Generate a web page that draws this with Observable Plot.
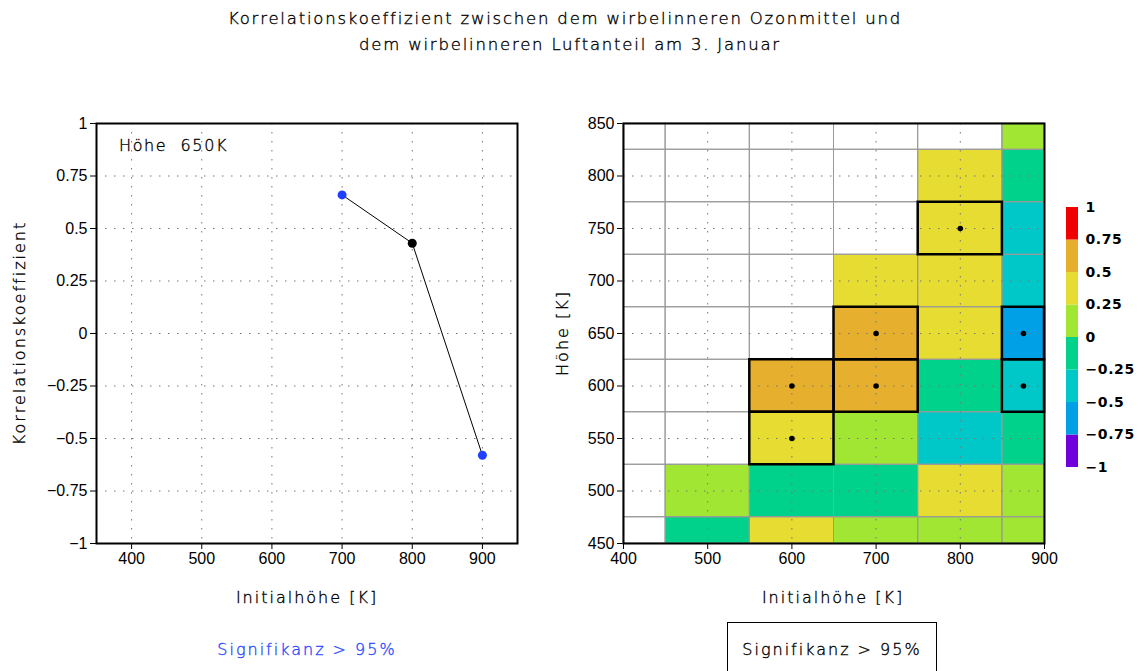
<!DOCTYPE html>
<html>
<head>
<meta charset="utf-8">
<script src="https://cdn.jsdelivr.net/npm/d3@7"></script>
<script src="https://cdn.jsdelivr.net/npm/@observablehq/plot@0.6"></script>
<style>
  html, body { margin: 0; padding: 0; background: white; }
  #chart { position: relative; width: 1140px; height: 671px; overflow: hidden; background: white; }
  .lbl { position: absolute; white-space: pre; font-family: "DejaVu Sans", sans-serif; font-weight: 300; font-size: 16px; letter-spacing: 2px; color: #000; -webkit-text-stroke: 0.35px currentColor; }
  #chart svg { position: absolute; }
</style>
</head>
<body>
<div id="chart"></div>
<script>
// ---------- data ----------
const titleLines = [
  "Korrelationskoeffizient zwischen dem wirbelinneren Ozonmittel und",
  "dem wirbelinneren Luftanteil am 3. Januar"
];
const initialHeights = [400, 500, 600, 700, 800, 900];
const heights = [450, 500, 550, 600, 650, 700, 750, 800, 850];
// correlation per height row (columns = initialHeights), null = no data
const r450 = [null, -0.12, 0.33, 0.12, 0.08, 0.15];
const r500 = [null, 0.16, -0.14, -0.09, 0.36, 0.11];
const r550 = [null, null, 0.47, 0.21, -0.38, -0.17];
const r600 = [null, null, 0.58, 0.62, -0.15, -0.46];
const r650 = [null, null, null, 0.66, 0.43, -0.58];
const r700 = [null, null, null, 0.39, 0.41, -0.33];
const r750 = [null, null, null, null, 0.46, -0.36];
const r800 = [null, null, null, null, 0.32, -0.07];
const r850 = [null, null, null, null, null, 0.12];
const corrRows = [r450, r500, r550, r600, r650, r700, r750, r800, r850];
// significant (> 95%) cells
const sigInit   = [600, 600, 700, 700, 800, 900, 900];
const sigHeight = [550, 600, 600, 650, 750, 600, 650];
// left panel: profile at 650 K
const profileInit = [700, 800, 900];
const profileCorr = [0.66, 0.43, -0.58];
const profileSig  = [true, false, true];
// colour classes
const classBreaks = [-0.75, -0.5, -0.25, 0, 0.25, 0.5, 0.75];
const classColors = ["#7000dc", "#00a0e6", "#00c8c8", "#00d28c", "#a0e632", "#e6dc32", "#e6af2d", "#f00000"];
const legendTicks = [-1, -0.75, -0.5, -0.25, 0, 0.25, 0.5, 0.75, 1];
const xTicksLeft = [400, 500, 600, 700, 800, 900];
const yTicksLeft = [-1, -0.75, -0.5, -0.25, 0, 0.25, 0.5, 0.75, 1];
const xTicksRight = [400, 500, 600, 700, 800, 900];
const yTicksRight = [450, 500, 550, 600, 650, 700, 750, 800, 850];

// ---------- helpers ----------
const chart = document.getElementById("chart");
function label(text, x, y, opts = {}) {
  const d = document.createElement("div");
  d.className = "lbl";
  d.textContent = text;
  d.style.left = x + "px";
  d.style.top = y + "px";
  d.style.transform = "translate(-50%,-50%)" + (opts.rotate ? " rotate(-90deg)" : "");
  if (opts.color) d.style.color = opts.color;
  if (opts.size) d.style.fontSize = opts.size + "px";
  if (opts.spacing != null) d.style.letterSpacing = opts.spacing + "px";
  if (opts.anchor === "start") d.style.transform = "translate(0,-50%)";
  chart.appendChild(d);
  return d;
}
function place(svg, left, top) {
  svg.style.left = left + "px";
  svg.style.top = top + "px";
  chart.appendChild(svg);
}
const fmt = d => d3.format("")(d).replace("-", "\u2212");
const baseStyle = {background: "transparent", overflow: "visible", fontSize: "16px", fontFamily: "'Liberation Sans', Arial, sans-serif", color: "#000"};
const dotted = {stroke: "#777", strokeOpacity: 1, strokeWidth: 1, strokeDasharray: "1.5 7.5"};
const colorScale = {type: "threshold", domain: classBreaks, range: classColors};

// ---------- title ----------
label(titleLines[0], 565, 18, {size: 16.5, spacing: 1.8});
label(titleLines[1], 570, 44, {size: 16.5, spacing: 1.8});

// ---------- left panel ----------
const profile = profileInit.map((x, i) => ({x, r: profileCorr[i], sig: profileSig[i]}));
const left = Plot.plot({
  width: 540, height: 620,
  marginLeft: 96, marginRight: 23, marginTop: 123, marginBottom: 77,
  style: baseStyle,
  x: {domain: [350, 950], ticks: xTicksLeft, tickSize: 6, tickPadding: 3, label: null, tickFormat: fmt},
  y: {domain: [-1, 1], ticks: yTicksLeft, tickSize: 6, tickPadding: 3, label: null, tickFormat: fmt},
  marks: [
    Plot.gridX(xTicksLeft, dotted),
    Plot.gridY(yTicksLeft, dotted),
    Plot.line(profile, {x: "x", y: "r", stroke: "black", strokeWidth: 1}),
    Plot.dot(profile, {x: "x", y: "r", r: 4.5, fill: d => d.sig ? "#2040ff" : "black", stroke: null}),
    Plot.frame({stroke: "black", strokeWidth: 2})
  ]
});
place(left, 0, 0);
label("Höhe  650K", 119, 145, {anchor: "start", spacing: 1.6});
label("Korrelationskoeffizient", 19, 333, {rotate: true});
label("Initialhöhe [K]", 307, 597);
label("Signifikanz > 95%", 307, 649, {color: "#2a48ff"});

// ---------- right panel ----------
const xDom = [400, 900], yDom = [450, 850];
const cells = [];
heights.forEach((h, hi) => initialHeights.forEach((x0, xi) => {
  cells.push({
    x1: Math.max(x0 - 50, xDom[0]), x2: Math.min(x0 + 50, xDom[1]),
    y1: Math.max(h - 25, yDom[0]), y2: Math.min(h + 25, yDom[1]),
    r: corrRows[hi][xi]
  });
}));
const sigCells = sigInit.map((x0, i) => {
  const h = sigHeight[i];
  const x1 = Math.max(x0 - 50, xDom[0]), x2 = Math.min(x0 + 50, xDom[1]);
  const y1 = Math.max(h - 25, yDom[0]), y2 = Math.min(h + 25, yDom[1]);
  return {x1, x2, y1, y2, cx: (x1 + x2) / 2, cy: (y1 + y2) / 2};
});
const right = Plot.plot({
  width: 560, height: 620,
  marginLeft: 83, marginRight: 56, marginTop: 123, marginBottom: 77,
  style: baseStyle,
  x: {domain: xDom, ticks: xTicksRight, tickSize: 6, tickPadding: 3, label: null, tickFormat: fmt},
  y: {domain: yDom, ticks: yTicksRight, tickSize: 6, tickPadding: 3, label: null, tickFormat: fmt},
  color: colorScale,
  marks: [
    Plot.rect(cells.filter(d => d.r != null), {x1: "x1", x2: "x2", y1: "y1", y2: "y2", fill: "r", inset: 0}),
    Plot.rect(cells, {x1: "x1", x2: "x2", y1: "y1", y2: "y2", fill: "none", stroke: "#999", strokeWidth: 1, inset: 0}),
    Plot.gridX([500, 600, 700, 800], dotted),
    Plot.gridY([500, 550, 600, 650, 700, 750, 800], dotted),
    Plot.rect(sigCells, {x1: "x1", x2: "x2", y1: "y1", y2: "y2", fill: "none", stroke: "black", strokeWidth: 2.5, inset: 0}),
    Plot.dot(sigCells, {x: "cx", y: "cy", r: 2.8, fill: "black", stroke: null}),
    Plot.frame({stroke: "black", strokeWidth: 2})
  ]
});
place(right, 540, 0);
label("Höhe [K]", 562, 333, {rotate: true});
label("Initialhöhe [K]", 833, 597);
const box = document.createElement("div");
box.style.cssText = "position:absolute;left:727px;top:622px;width:210px;height:70px;border:1.5px solid black;box-sizing:border-box;";
chart.appendChild(box);
label("Signifikanz > 95%", 832, 649);

// ---------- colour bar ----------
const legendCells = legendTicks.slice(0, -1).map((lo, i) => ({lo, hi: legendTicks[i + 1], mid: (lo + legendTicks[i + 1]) / 2}));
const bar = Plot.plot({
  width: 90, height: 290,
  marginLeft: 16, marginRight: 62, marginTop: 17, marginBottom: 13,
  style: {...baseStyle, fontSize: "14px", fontFamily: "'DejaVu Sans', sans-serif", fontWeight: "bold"},
  x: {domain: [0, 1], axis: null},
  y: {domain: [-1, 1], axis: "right", ticks: legendTicks, tickSize: 0, tickPadding: 7, label: null, tickFormat: fmt},
  color: colorScale,
  marks: [
    Plot.rect(legendCells, {x1: 0, x2: 1, y1: "lo", y2: "hi", fill: "mid", inset: 0})
  ]
});
bar.querySelectorAll("text").forEach(t => t.setAttribute("letter-spacing", "0.6"));
place(bar, 1050, 190);
</script>
</body>
</html>
